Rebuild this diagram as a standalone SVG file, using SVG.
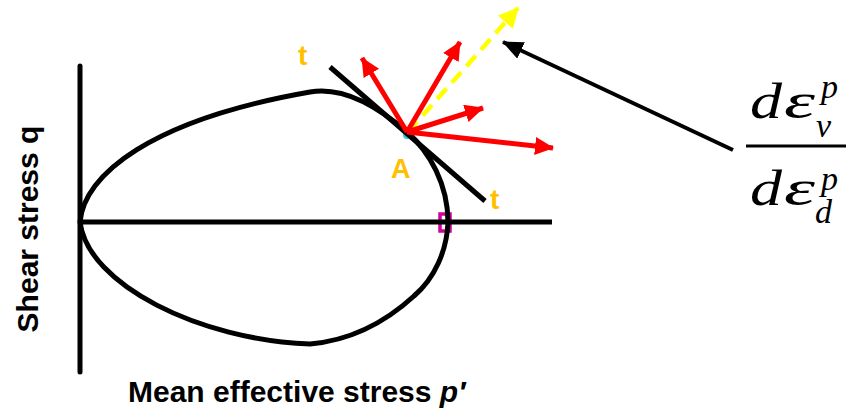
<svg xmlns="http://www.w3.org/2000/svg" width="846" height="412" viewBox="0 0 846 412">
<style>
.ln{fill:none;stroke:#000;stroke-width:5}
.red{stroke:#FF0000;stroke-width:5;fill:none}
.lbl{font-family:"Liberation Sans",Arial,sans-serif;font-weight:bold;fill:#000}
.or{font-family:"Liberation Sans",Arial,sans-serif;font-weight:bold;fill:#FFC000}
.m{font-family:"Liberation Serif","Times New Roman",serif;font-style:italic;fill:#000}
</style>
<defs>
<marker id="ar" markerUnits="userSpaceOnUse" markerWidth="22" markerHeight="20" refX="18" refY="9" orient="auto"><path d="M0,0 L19,9 L0,18 Z" fill="#FF0000"/></marker>
<marker id="ay" markerUnits="userSpaceOnUse" markerWidth="24" markerHeight="22" refX="19" refY="10" orient="auto"><path d="M0,0 L20,10 L0,20 Z" fill="#FFFF00"/></marker>
<marker id="ak" markerUnits="userSpaceOnUse" markerWidth="24" markerHeight="20" refX="20" refY="9" orient="auto"><path d="M0,0 L21,9 L0,18 Z" fill="#000"/></marker>
</defs>
<g id="markers">
<rect x="440" y="214" width="10" height="17" fill="none" stroke="#D0009A" stroke-width="3.5"/>
<circle cx="407" cy="135" r="4" fill="#33CCCC"/>
</g>
<g id="axes">
<line class="ln" x1="80" y1="66" x2="80" y2="372" stroke-linecap="round"/>
<line class="ln" x1="80" y1="222" x2="552" y2="222"/>
</g>
<g id="yield-surface">
<path class="ln" d="M80,222 C84,175 150,120 310,92 C345,86 380,108.5 407,132 C430,152 448,185 448,222 C447,250 435,278 414,296 C390,318 355,340 310,344 C200,340 88,285 80,222 Z"/>
</g>
<g id="connectors">
<line class="ln" x1="330" y1="67" x2="485" y2="201"/>
<line x1="408" y1="132" x2="518" y2="8" stroke="#FFFF00" stroke-width="4.5" stroke-dasharray="14 8" marker-end="url(#ay)"/>
<line class="red" x1="407" y1="132" x2="362" y2="58" marker-end="url(#ar)"/>
<line class="red" x1="407" y1="132" x2="460" y2="42" marker-end="url(#ar)"/>
<line class="red" x1="407" y1="132" x2="483" y2="108" marker-end="url(#ar)"/>
<line class="red" x1="407" y1="132" x2="553" y2="148" marker-end="url(#ar)"/>
<line x1="733" y1="150" x2="503" y2="42" stroke="#000" stroke-width="4" marker-end="url(#ak)"/>
</g>
<g id="labels">
<text class="or" x="298" y="65" font-size="28">t</text>
<text class="or" x="490" y="209" font-size="28">t</text>
<text class="or" x="391" y="178" font-size="27">A</text>
<text class="lbl" x="128" y="402" font-size="30">Mean effective stress <tspan font-style="italic">p′</tspan></text>
<text class="lbl" transform="translate(38,229) rotate(-90)" text-anchor="middle" font-size="30">Shear stress q</text>
</g>
<g id="formula">
<text class="m" x="750" y="118" font-size="50" textLength="32" lengthAdjust="spacingAndGlyphs">d</text>
<text class="m" x="784" y="118" font-size="50" textLength="31" lengthAdjust="spacingAndGlyphs">ε</text>
<text class="m" x="821" y="98" font-size="34">p</text>
<text class="m" x="816" y="137" font-size="34">v</text>
<line x1="746" y1="146" x2="846" y2="146" stroke="#000" stroke-width="3"/>
<text class="m" x="750" y="205" font-size="50" textLength="32" lengthAdjust="spacingAndGlyphs">d</text>
<text class="m" x="784" y="205" font-size="50" textLength="31" lengthAdjust="spacingAndGlyphs">ε</text>
<text class="m" x="821" y="190" font-size="34">p</text>
<text class="m" x="815" y="223" font-size="34">d</text>
</g>
</svg>
